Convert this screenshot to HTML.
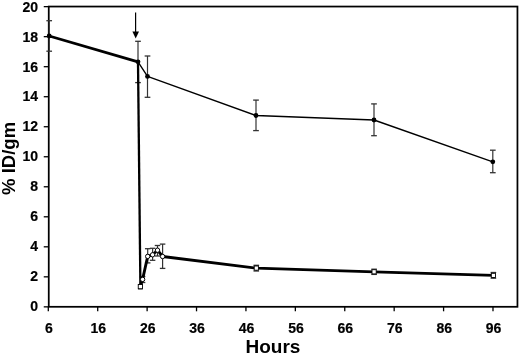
<!DOCTYPE html>
<html><head><meta charset="utf-8"><style>
html,body{margin:0;padding:0;background:#fff;}
svg{display:block;}
.tl{font-family:"Liberation Sans",Arial,sans-serif;font-weight:bold;font-size:14px;fill:#000;stroke:#000;stroke-width:0.2px;}
.al{font-family:"Liberation Sans",Arial,sans-serif;font-weight:bold;font-size:19px;fill:#000;}
</style></head><body>
<svg width="520" height="354" viewBox="0 0 520 354">
<rect x="48.75" y="6.55" width="468.70000000000005" height="300.25" fill="none" stroke="#000" stroke-width="1.75"/>
<line x1="48.30" y1="306.8" x2="48.30" y2="311.3" stroke="#000" stroke-width="1.3"/>
<text x="48.90" y="332.75" text-anchor="middle" class="tl">6</text>
<line x1="97.71" y1="306.8" x2="97.71" y2="311.3" stroke="#000" stroke-width="1.3"/>
<text x="98.31" y="332.75" text-anchor="middle" class="tl">16</text>
<line x1="147.12" y1="306.8" x2="147.12" y2="311.3" stroke="#000" stroke-width="1.3"/>
<text x="147.72" y="332.75" text-anchor="middle" class="tl">26</text>
<line x1="196.53" y1="306.8" x2="196.53" y2="311.3" stroke="#000" stroke-width="1.3"/>
<text x="197.13" y="332.75" text-anchor="middle" class="tl">36</text>
<line x1="245.94" y1="306.8" x2="245.94" y2="311.3" stroke="#000" stroke-width="1.3"/>
<text x="246.54" y="332.75" text-anchor="middle" class="tl">46</text>
<line x1="295.35" y1="306.8" x2="295.35" y2="311.3" stroke="#000" stroke-width="1.3"/>
<text x="295.95" y="332.75" text-anchor="middle" class="tl">56</text>
<line x1="344.76" y1="306.8" x2="344.76" y2="311.3" stroke="#000" stroke-width="1.3"/>
<text x="345.36" y="332.75" text-anchor="middle" class="tl">66</text>
<line x1="394.17" y1="306.8" x2="394.17" y2="311.3" stroke="#000" stroke-width="1.3"/>
<text x="394.77" y="332.75" text-anchor="middle" class="tl">76</text>
<line x1="443.58" y1="306.8" x2="443.58" y2="311.3" stroke="#000" stroke-width="1.3"/>
<text x="444.18" y="332.75" text-anchor="middle" class="tl">86</text>
<line x1="492.99" y1="306.8" x2="492.99" y2="311.3" stroke="#000" stroke-width="1.3"/>
<text x="493.59" y="332.75" text-anchor="middle" class="tl">96</text>
<line x1="43.75" y1="306.85" x2="48.75" y2="306.85" stroke="#000" stroke-width="1.3"/>
<text x="38.0" y="310.90" text-anchor="end" class="tl">0</text>
<line x1="43.75" y1="276.83" x2="48.75" y2="276.83" stroke="#000" stroke-width="1.3"/>
<text x="38.0" y="280.97" text-anchor="end" class="tl">2</text>
<line x1="43.75" y1="246.81" x2="48.75" y2="246.81" stroke="#000" stroke-width="1.3"/>
<text x="38.0" y="251.05" text-anchor="end" class="tl">4</text>
<line x1="43.75" y1="216.79" x2="48.75" y2="216.79" stroke="#000" stroke-width="1.3"/>
<text x="38.0" y="221.12" text-anchor="end" class="tl">6</text>
<line x1="43.75" y1="186.77" x2="48.75" y2="186.77" stroke="#000" stroke-width="1.3"/>
<text x="38.0" y="191.20" text-anchor="end" class="tl">8</text>
<line x1="43.75" y1="156.75" x2="48.75" y2="156.75" stroke="#000" stroke-width="1.3"/>
<text x="38.0" y="161.27" text-anchor="end" class="tl">10</text>
<line x1="43.75" y1="126.73" x2="48.75" y2="126.73" stroke="#000" stroke-width="1.3"/>
<text x="38.0" y="131.35" text-anchor="end" class="tl">12</text>
<line x1="43.75" y1="96.71" x2="48.75" y2="96.71" stroke="#000" stroke-width="1.3"/>
<text x="38.0" y="101.42" text-anchor="end" class="tl">14</text>
<line x1="43.75" y1="66.69" x2="48.75" y2="66.69" stroke="#000" stroke-width="1.3"/>
<text x="38.0" y="71.50" text-anchor="end" class="tl">16</text>
<line x1="43.75" y1="36.67" x2="48.75" y2="36.67" stroke="#000" stroke-width="1.3"/>
<text x="38.0" y="41.57" text-anchor="end" class="tl">18</text>
<line x1="43.75" y1="6.65" x2="48.75" y2="6.65" stroke="#000" stroke-width="1.3"/>
<text x="38.0" y="11.65" text-anchor="end" class="tl">20</text>
<line x1="49.20" y1="20.70" x2="49.20" y2="51.20" stroke="#333" stroke-width="1.2"/>
<line x1="46.35" y1="20.70" x2="52.05" y2="20.70" stroke="#333" stroke-width="1.3"/>
<line x1="46.35" y1="51.20" x2="52.05" y2="51.20" stroke="#333" stroke-width="1.3"/>
<line x1="138.00" y1="41.30" x2="138.00" y2="82.60" stroke="#333" stroke-width="1.2"/>
<line x1="135.15" y1="41.30" x2="140.85" y2="41.30" stroke="#333" stroke-width="1.3"/>
<line x1="135.15" y1="82.60" x2="140.85" y2="82.60" stroke="#333" stroke-width="1.3"/>
<line x1="147.50" y1="56.00" x2="147.50" y2="97.30" stroke="#333" stroke-width="1.2"/>
<line x1="144.65" y1="56.00" x2="150.35" y2="56.00" stroke="#333" stroke-width="1.3"/>
<line x1="144.65" y1="97.30" x2="150.35" y2="97.30" stroke="#333" stroke-width="1.3"/>
<line x1="256.00" y1="100.10" x2="256.00" y2="130.60" stroke="#333" stroke-width="1.2"/>
<line x1="253.15" y1="100.10" x2="258.85" y2="100.10" stroke="#333" stroke-width="1.3"/>
<line x1="253.15" y1="130.60" x2="258.85" y2="130.60" stroke="#333" stroke-width="1.3"/>
<line x1="374.00" y1="103.90" x2="374.00" y2="135.70" stroke="#333" stroke-width="1.2"/>
<line x1="371.15" y1="103.90" x2="376.85" y2="103.90" stroke="#333" stroke-width="1.3"/>
<line x1="371.15" y1="135.70" x2="376.85" y2="135.70" stroke="#333" stroke-width="1.3"/>
<line x1="492.80" y1="150.20" x2="492.80" y2="172.70" stroke="#333" stroke-width="1.2"/>
<line x1="489.95" y1="150.20" x2="495.65" y2="150.20" stroke="#333" stroke-width="1.3"/>
<line x1="489.95" y1="172.70" x2="495.65" y2="172.70" stroke="#333" stroke-width="1.3"/>
<line x1="142.60" y1="276.50" x2="142.60" y2="282.50" stroke="#333" stroke-width="1.2"/>
<line x1="139.85" y1="276.50" x2="145.35" y2="276.50" stroke="#333" stroke-width="1.3"/>
<line x1="139.85" y1="282.50" x2="145.35" y2="282.50" stroke="#333" stroke-width="1.3"/>
<line x1="147.70" y1="248.70" x2="147.70" y2="262.90" stroke="#333" stroke-width="1.2"/>
<line x1="144.95" y1="248.70" x2="150.45" y2="248.70" stroke="#333" stroke-width="1.3"/>
<line x1="144.95" y1="262.90" x2="150.45" y2="262.90" stroke="#333" stroke-width="1.3"/>
<line x1="152.60" y1="248.30" x2="152.60" y2="260.30" stroke="#333" stroke-width="1.2"/>
<line x1="149.85" y1="248.30" x2="155.35" y2="248.30" stroke="#333" stroke-width="1.3"/>
<line x1="149.85" y1="260.30" x2="155.35" y2="260.30" stroke="#333" stroke-width="1.3"/>
<line x1="157.50" y1="245.50" x2="157.50" y2="256.00" stroke="#333" stroke-width="1.2"/>
<line x1="154.75" y1="245.50" x2="160.25" y2="245.50" stroke="#333" stroke-width="1.3"/>
<line x1="154.75" y1="256.00" x2="160.25" y2="256.00" stroke="#333" stroke-width="1.3"/>
<line x1="162.60" y1="244.10" x2="162.60" y2="268.40" stroke="#333" stroke-width="1.2"/>
<line x1="159.85" y1="244.10" x2="165.35" y2="244.10" stroke="#333" stroke-width="1.3"/>
<line x1="159.85" y1="268.40" x2="165.35" y2="268.40" stroke="#333" stroke-width="1.3"/>
<line x1="140.35" y1="284.60" x2="140.35" y2="288.80" stroke="#333" stroke-width="1.2"/>
<line x1="138.05" y1="284.60" x2="142.65" y2="284.60" stroke="#333" stroke-width="1.3"/>
<line x1="138.05" y1="288.80" x2="142.65" y2="288.80" stroke="#333" stroke-width="1.3"/>
<line x1="256.30" y1="265.30" x2="256.30" y2="271.00" stroke="#333" stroke-width="1.2"/>
<line x1="253.50" y1="265.30" x2="259.10" y2="265.30" stroke="#333" stroke-width="1.3"/>
<line x1="253.50" y1="271.00" x2="259.10" y2="271.00" stroke="#333" stroke-width="1.3"/>
<line x1="374.10" y1="269.20" x2="374.10" y2="274.40" stroke="#333" stroke-width="1.2"/>
<line x1="371.30" y1="269.20" x2="376.90" y2="269.20" stroke="#333" stroke-width="1.3"/>
<line x1="371.30" y1="274.40" x2="376.90" y2="274.40" stroke="#333" stroke-width="1.3"/>
<line x1="493.40" y1="272.50" x2="493.40" y2="278.20" stroke="#333" stroke-width="1.2"/>
<line x1="490.60" y1="272.50" x2="496.20" y2="272.50" stroke="#333" stroke-width="1.3"/>
<line x1="490.60" y1="278.20" x2="496.20" y2="278.20" stroke="#333" stroke-width="1.3"/>
<polyline points="138.0,61.8 147.5,76.4 256.0,115.5 374.0,120.0 492.8,161.8" fill="none" stroke="#000" stroke-width="1.35" stroke-linejoin="round"/>
<line x1="138.0" y1="61.8" x2="140.4" y2="286.6" stroke="#000" stroke-width="2.3"/>
<polyline points="49.2,36.0 138.0,61.8" fill="none" stroke="#000" stroke-width="2.85" stroke-linejoin="round"/>
<polyline points="140.35,286.65 142.6,279.4 147.7,256.4 152.6,254.8 157.5,250.2 162.6,256.5 256.3,268.1 374.1,271.8 493.4,275.4" fill="none" stroke="#000" stroke-width="2.85" stroke-linejoin="round"/>
<circle cx="49.2" cy="36.0" r="2.4" fill="#000"/>
<circle cx="138.0" cy="61.8" r="2.4" fill="#000"/>
<circle cx="147.5" cy="76.4" r="2.4" fill="#000"/>
<circle cx="256.0" cy="115.5" r="2.4" fill="#000"/>
<circle cx="374.0" cy="120.0" r="2.4" fill="#000"/>
<circle cx="492.8" cy="161.8" r="2.4" fill="#000"/>
<circle cx="142.6" cy="279.4" r="2.2" fill="#fff" stroke="#000" stroke-width="1.0"/>
<circle cx="147.7" cy="256.4" r="2.2" fill="#fff" stroke="#000" stroke-width="1.0"/>
<circle cx="152.6" cy="254.8" r="2.2" fill="#fff" stroke="#000" stroke-width="1.0"/>
<circle cx="157.5" cy="250.2" r="2.2" fill="#fff" stroke="#000" stroke-width="1.0"/>
<circle cx="162.6" cy="256.5" r="2.2" fill="#fff" stroke="#000" stroke-width="1.0"/>
<rect x="138.25" y="284.54999999999995" width="4.2" height="4.2" fill="#fff" stroke="#000" stroke-width="0.9"/>
<rect x="254.20000000000002" y="266.0" width="4.2" height="4.2" fill="#fff" stroke="#000" stroke-width="0.9"/>
<rect x="372.0" y="269.7" width="4.2" height="4.2" fill="#fff" stroke="#000" stroke-width="0.9"/>
<rect x="491.29999999999995" y="273.29999999999995" width="4.2" height="4.2" fill="#fff" stroke="#000" stroke-width="0.9"/>
<line x1="135.6" y1="12.5" x2="135.6" y2="33" stroke="#000" stroke-width="1.2"/>
<polygon points="132.4,31.5 139,31.5 135.7,38.5" fill="#000"/>
<text x="273" y="352.5" text-anchor="middle" class="al">Hours</text>
<text transform="translate(15.2,158.4) rotate(-90)" text-anchor="middle" class="al" style="font-size:18.5px">% ID/gm</text>
</svg>
</body></html>
